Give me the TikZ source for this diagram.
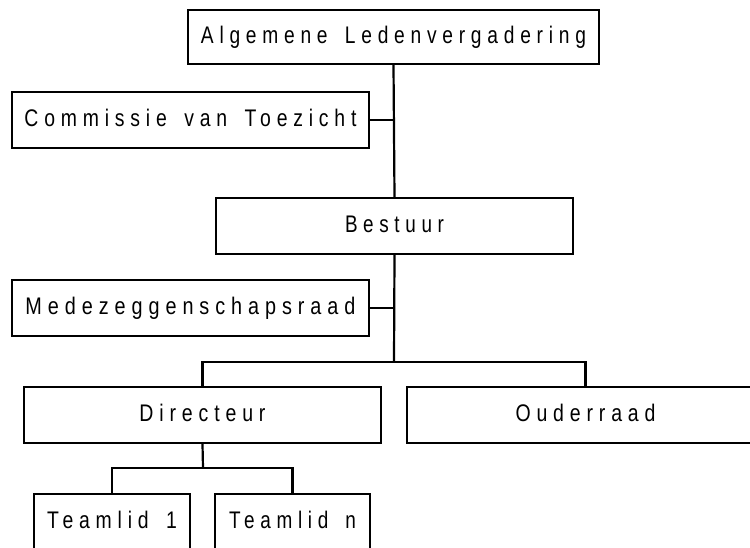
\documentclass[tikz,border=0pt]{standalone}
\usepackage{fontspec}
\setmainfont{Liberation Sans}[LetterSpace=30]
\usepackage{graphicx}
\newcommand\fitlbl[2]{\resizebox{#1pt}{\height}{#2}}
\newcommand\wsp{\hspace{0.9em}}
\tikzset{
  orgbox/.style={draw=black, line width=2.2pt, rectangle, inner sep=0pt,
    minimum width=357pt, minimum height=56pt, font=\fontsize{24}{28}\selectfont,
    text height=17pt, text depth=4pt, anchor=center},
  link/.style={draw=black, line width=2.2pt}
}
\begin{document}
\begin{tikzpicture}[x=1pt,y=-1pt]
\useasboundingbox (0,0) rectangle (750,547);
\clip (0,0) rectangle (750,547);
\node[orgbox, minimum width=411pt, minimum height=54pt] (alv) at (393.5,37) {\fitlbl{385}{Algemene\wsp Ledenvergadering}};
\node[orgbox] (cvt) at (190.5,120) {\fitlbl{332}{Commissie\wsp van\wsp Toezicht}};
\node[orgbox] (bst) at (394.5,226) {\fitlbl{99}{Bestuur}};
\node[orgbox] (mzr) at (190.5,308) {\fitlbl{330}{Medezeggenschapsraad}};
\node[orgbox] (dir) at (202.5,415) {\fitlbl{126}{Directeur}};
\node[orgbox] (oud) at (585.5,415) {\fitlbl{140}{Ouderraad}};
\node[orgbox, minimum width=156pt] (t1) at (112,522) {\fitlbl{130}{Teamlid\wsp 1}};
\node[orgbox, minimum width=155pt] (tn) at (292.5,522) {\fitlbl{127}{Teamlid\wsp n}};
\coordinate (j1) at (394,362);
\coordinate (j2) at (203,468);
\draw[link] (alv.south) -- (bst.north);
\draw[link] (cvt.east) -- (cvt.east -| alv.south);
\draw[link] (bst.south) -- (j1);
\draw[link] (mzr.east) -- (mzr.east -| bst.south);
\draw[link] (dir.north) -- (dir.north |- j1) -- (oud.north |- j1) -- (oud.north);
\draw[link] (dir.south) -- (j2);
\draw[link] (t1.north) -- (t1.north |- j2) -- (tn.north |- j2) -- (tn.north);
\end{tikzpicture}
\end{document}
